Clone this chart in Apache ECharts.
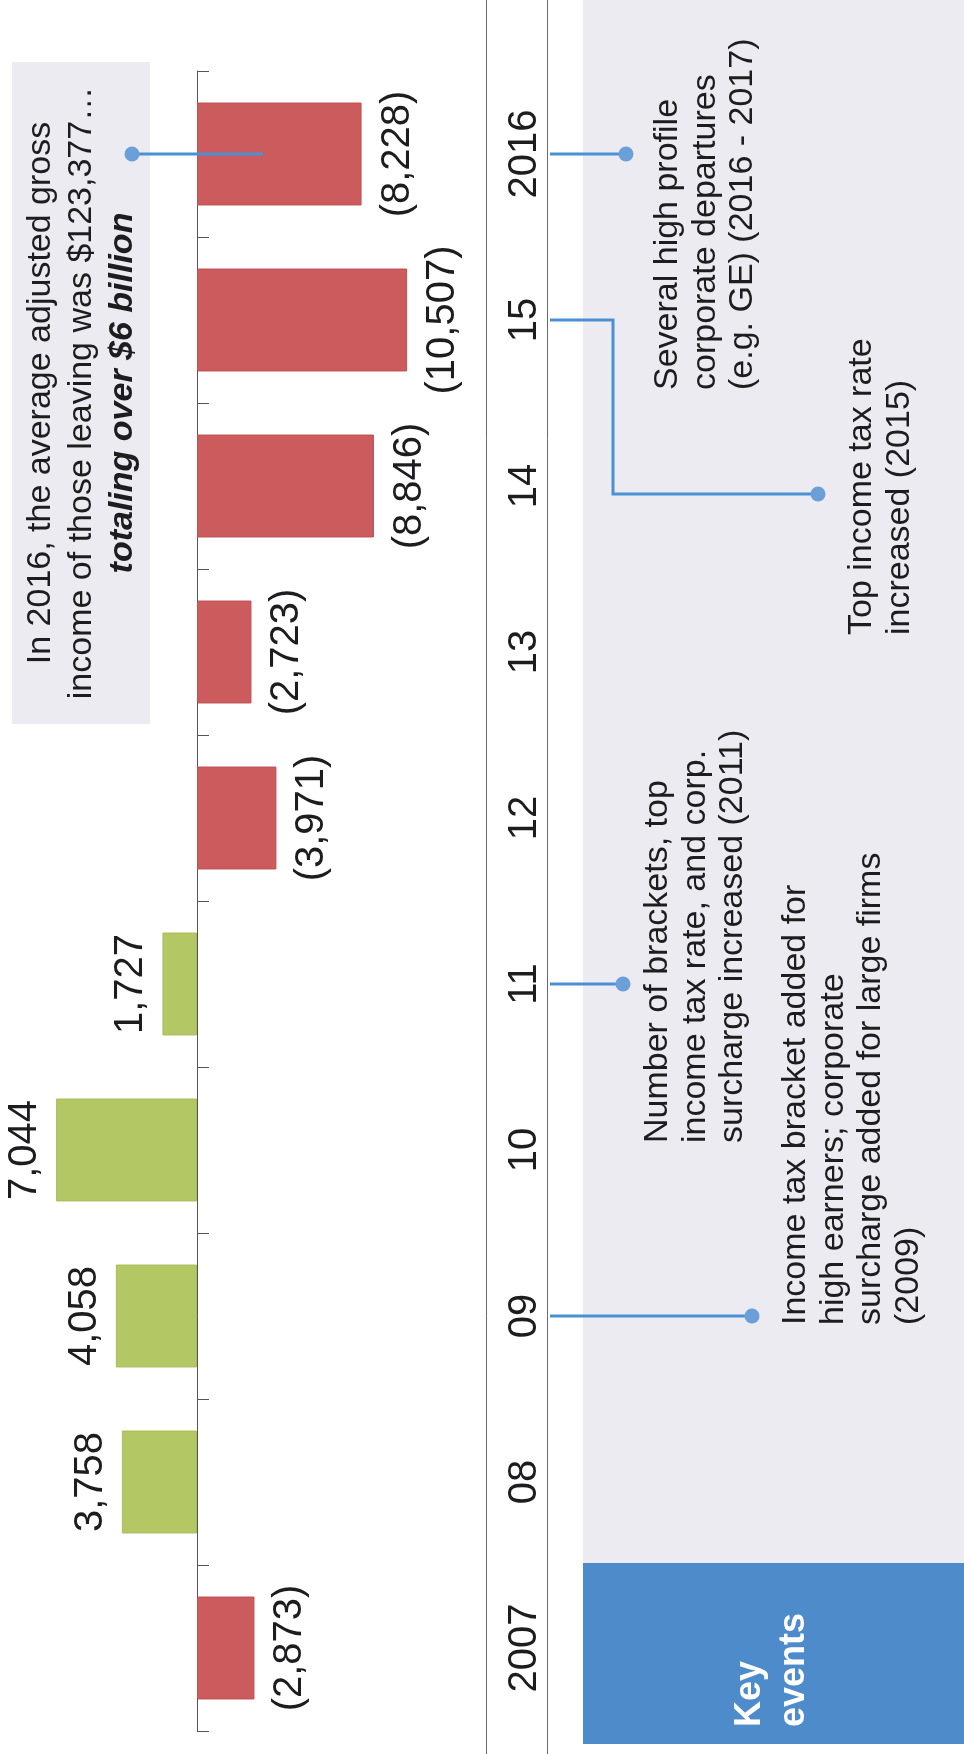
<!DOCTYPE html>
<html>
<head>
<meta charset="utf-8">
<script src="https://cdn.jsdelivr.net/npm/echarts@6/dist/echarts.min.js"></script>
<style>
  html, body { margin: 0; padding: 0; background: #ffffff; }
  #chart { width: 964px; height: 1754px; }
</style>
</head>
<body>
<div id="chart"></div>
<script>
// ---- data ----
const years = ['2007', '08', '09', '10', '11', '12', '13', '14', '15', '2016'];
const netMigration = [-2873, 3758, 4058, 7044, 1727, -3971, -2723, -8846, -10507, -8228];

const eventYears = ['2016', '15', '11', '09'];
const eventTexts = [
  'Several high profile\ncorporate departures\n(e.g. GE) (2016 - 2017)',
  'Top income tax rate\nincreased (2015)',
  'Number of brackets, top\nincome tax rate, and corp.\nsurcharge increased (2011)',
  'Income tax bracket added for\nhigh earners; corporate\nsurcharge added for large firms\n(2009)'
];

const noteYear = '2016';
const noteLines = [
  'In 2016, the average adjusted gross',
  'income of those leaving was $123,377\u2026',
  'totaling over $6 billion'
];
const panelTitle = 'Key\nevents';

// ---- styles & layout ----
const FONT = '"Liberation Sans", Arial, Helvetica, sans-serif';
const TEXT = '#1d1d1f';
const GREEN = '#b4c765';
const RED = '#cc5b5e';
const LINE_BLUE = '#4a91d3';
const DOT_BLUE = '#6a9fd8';
const PANEL = '#ecebf2';
const KEY_BLUE = '#4d8bca';
const ROT = Math.PI / 2; // text reads bottom to top

// callout geometry: null y means "centre of the year's band"
const noteCallout = [[263, null], [132, null]];
const eventCallouts = [
  [[550, null], [626, null]],
  [[550, null], [613, null], [613, 494], [818, 494]],
  [[550, null], [623, null]],
  [[550, null], [752, null]]
];
// anchor of each event text block (left edge of block, start of lines)
const eventTextPos = [[649, 390], [843, 635], [639, 1143], [777, 1325]];

function fmt(v) {
  const s = Math.abs(v).toLocaleString('en-US');
  return v < 0 ? '(' + s + ')' : s;
}

const calloutData = [[0, years.indexOf(noteYear)]]
  .concat(eventYears.map(y => [0, years.indexOf(y)]));
const calloutShapes = [noteCallout].concat(eventCallouts);

const chart = echarts.init(document.getElementById('chart'), null, { renderer: 'canvas' });

const option = {
  backgroundColor: '#ffffff',
  animation: false,
  grid: { left: 17, right: 527, top: 71, bottom: 23, containLabel: false },
  xAxis: {
    type: 'value',
    inverse: true,
    min: -12000,
    max: 9000,
    show: false
  },
  yAxis: [
    {
      type: 'category',
      data: years,
      position: 'left',
      boundaryGap: true,
      axisLine: { show: true, onZero: true, lineStyle: { color: '#555555', width: 1 } },
      axisTick: { show: true, inside: true, length: 12, lineStyle: { color: '#555555', width: 1 } },
      axisLabel: { show: false },
      splitLine: { show: false }
    },
    {
      type: 'category',
      data: years,
      position: 'right',
      boundaryGap: true,
      axisLine: { show: false, onZero: false },
      axisTick: { show: false },
      axisLabel: {
        show: true,
        interval: 0,
        rotate: 90,
        margin: 88,
        align: 'center',
        verticalAlign: 'middle',
        fontSize: 40,
        fontFamily: FONT,
        color: TEXT
      },
      splitLine: { show: false }
    }
  ],
  series: [
    {
      type: 'bar',
      yAxisIndex: 0,
      barWidth: '62%',
      z: 3,
      data: netMigration.map(v => ({
        value: v,
        itemStyle: {
          color: v >= 0 ? GREEN : RED,
          borderColor: v >= 0 ? '#a9bc5a' : '#bf4f53',
          borderWidth: 1
        },
        label: {
          position: v >= 0 ? 'left' : 'right',
          verticalAlign: v >= 0 ? 'bottom' : 'top',
          distance: v >= 0 ? 11 : 16
        }
      })),
      label: {
        show: true,
        rotate: 90,
        align: 'center',
        fontSize: 40,
        fontFamily: FONT,
        color: TEXT,
        formatter: p => fmt(p.value)
      }
    },
    {
      type: 'custom',
      yAxisIndex: 0,
      z: 6,
      clip: false,
      silent: true,
      data: calloutData,
      renderItem: function (params, api) {
        const cy = api.coord([0, api.value(1)])[1];
        const pts = calloutShapes[params.dataIndex].map(p => [p[0], p[1] == null ? cy : p[1]]);
        const end = pts[pts.length - 1];
        return {
          type: 'group',
          children: [
            { type: 'polyline', shape: { points: pts }, style: { stroke: LINE_BLUE, lineWidth: 3, fill: null } },
            { type: 'circle', shape: { cx: end[0], cy: end[1], r: 7.5 }, style: { fill: DOT_BLUE } }
          ]
        };
      }
    }
  ],
  graphic: [
    // events panel and its heading box
    { type: 'rect', z: -10, shape: { x: 583, y: 0, width: 381, height: 1563 }, style: { fill: PANEL } },
    { type: 'rect', z: -9, shape: { x: 583, y: 1563, width: 381, height: 181 }, style: { fill: KEY_BLUE } },
    // year band rules
    { type: 'line', z: -5, shape: { x1: 486.5, y1: 0, x2: 486.5, y2: 1754 }, style: { stroke: '#6a6a6a', lineWidth: 1 } },
    { type: 'line', z: -5, shape: { x1: 547.5, y1: 0, x2: 547.5, y2: 1754 }, style: { stroke: '#6a6a6a', lineWidth: 1 } },
    // note box
    { type: 'rect', z: -10, shape: { x: 12, y: 62, width: 138, height: 662 }, style: { fill: PANEL } },
    {
      type: 'text', z: 10, x: 81.5, y: 393, rotation: ROT,
      style: {
        text: noteLines[0] + '\n' + noteLines[1] + '\n{b|' + noteLines[2] + '}',
        fontSize: 34, fontFamily: FONT, fill: TEXT, lineHeight: 41,
        align: 'center', verticalAlign: 'middle',
        rich: { b: { fontSize: 34, fontFamily: FONT, fontWeight: 'bold', fontStyle: 'italic', lineHeight: 41, fill: TEXT } }
      }
    },
    {
      type: 'text', z: 10, x: 728, y: 1727, rotation: ROT,
      style: {
        text: panelTitle, fontSize: 36, fontWeight: 'bold', fontFamily: FONT,
        fill: '#ffffff', lineHeight: 44, align: 'left', verticalAlign: 'top'
      }
    }
  ].concat(eventTexts.map((t, i) => ({
    type: 'text', z: 10, x: eventTextPos[i][0], y: eventTextPos[i][1], rotation: ROT,
    style: {
      text: t, fontSize: 34, fontFamily: FONT, fill: TEXT,
      lineHeight: 37.5, align: 'left', verticalAlign: 'top'
    }
  })))
};

chart.setOption(option);
</script>
</body>
</html>
